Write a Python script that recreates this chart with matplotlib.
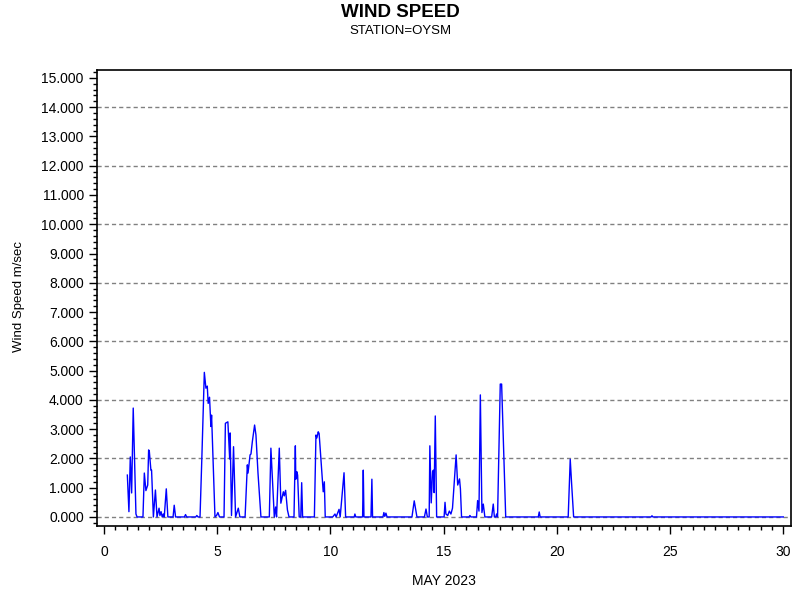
import matplotlib
matplotlib.use("Agg")
import matplotlib.pyplot as plt
import numpy as np
from matplotlib.ticker import MultipleLocator, FormatStrFormatter

plt.rcParams["font.family"] = ["Liberation Sans", "DejaVu Sans"]

# wind speed readings (day of May, m/sec)
day = [1.03, 1.10, 1.16, 1.22, 1.29, 1.41, 1.46,
       1.72, 1.78, 1.85, 1.93, 1.97, 2.00, 2.07, 2.10, 2.18,
       2.27, 2.34, 2.43, 2.47, 2.52, 2.57, 2.62, 2.66, 2.75, 2.82,
       3.05, 3.10, 3.16, 3.55, 3.60, 3.65, 4.05, 4.10, 4.15,
       4.24, 4.32, 4.43, 4.50, 4.56, 4.60, 4.66, 4.72, 4.75, 4.90,
       4.97, 5.03, 5.10,
       5.30, 5.36, 5.47, 5.55, 5.57, 5.63, 5.72, 5.81, 5.93, 6.00,
       6.23, 6.33, 6.36, 6.45, 6.49, 6.55, 6.65, 6.71, 6.80, 6.93,
       7.30, 7.37, 7.52, 7.58, 7.62, 7.74, 7.81, 7.92, 7.96, 8.02, 8.10, 8.17,
       8.39, 8.45, 8.47, 8.51, 8.55, 8.62, 8.69, 8.73, 8.77,
       9.29, 9.36, 9.40, 9.46, 9.50, 9.61, 9.68, 9.73, 9.77,
       10.10, 10.20, 10.25, 10.38, 10.43, 10.60, 10.67,
       11.05, 11.08, 11.12, 11.42, 11.45, 11.48, 11.79, 11.83, 11.86,
       12.32, 12.36, 12.40, 12.45, 12.50,
       13.60, 13.70, 13.82,
       14.15, 14.22, 14.28, 14.36, 14.39, 14.45, 14.51, 14.55, 14.58, 14.63, 14.69,
       15.02, 15.06, 15.10, 15.18, 15.25, 15.32, 15.39, 15.55, 15.62, 15.70, 15.74, 15.79,
       16.12, 16.16, 16.20,
       16.45, 16.50, 16.56, 16.62, 16.69, 16.75, 16.82,
       17.12, 17.19, 17.24, 17.30, 17.34, 17.38, 17.50, 17.56, 17.74,
       19.18, 19.22, 19.26,
       20.50, 20.59, 20.65, 20.74,
       24.16, 24.20, 24.24,
       30.0]

speed = [1.43, 0.18, 2.05, 0.82, 3.72, 0.10, 0.0,
         0.0, 1.50, 0.90, 1.09, 2.29, 2.25, 1.60, 1.60, 0.0,
         0.92, 0.0, 0.30, 0.05, 0.18, 0.0, 0.10, 0.0, 0.96, 0.0,
         0.0, 0.40, 0.0, 0.0, 0.08, 0.0, 0.0, 0.05, 0.0,
         0.0, 2.00, 4.94, 4.40, 4.47, 3.88, 4.09, 3.09, 3.48, 0.0,
         0.05, 0.15, 0.0,
         0.0, 3.20, 3.25, 1.98, 2.87, 0.05, 2.40, 0.0, 0.30, 0.0,
         0.0, 1.78, 1.50, 2.12, 2.15, 2.57, 3.14, 2.80, 1.50, 0.0,
         0.0, 2.35, 0.0, 0.34, 0.0, 2.35, 0.47, 0.86, 0.72, 0.91, 0.24, 0.0,
         0.0, 2.43, 1.29, 1.55, 1.43, 0.0, 0.0, 1.17, 0.0,
         0.0, 2.80, 2.70, 2.91, 2.85, 1.60, 0.86, 1.20, 0.0,
         0.0, 0.10, 0.0, 0.26, 0.0, 1.51, 0.0,
         0.0, 0.10, 0.0, 0.0, 1.60, 0.0, 0.0, 1.29, 0.0,
         0.0, 0.15, 0.02, 0.13, 0.0,
         0.0, 0.55, 0.0,
         0.0, 0.27, 0.0, 0.0, 2.43, 0.48, 1.55, 1.60, 0.83, 3.45, 0.0,
         0.0, 0.50, 0.10, 0.05, 0.20, 0.10, 0.30, 2.12, 1.09, 1.30, 0.96, 0.0,
         0.0, 0.05, 0.0,
         0.0, 0.56, 0.20, 4.17, 0.15, 0.44, 0.0,
         0.0, 0.44, 0.0, 0.0, 0.10, 0.0, 4.54, 4.54, 0.0,
         0.0, 0.17, 0.0,
         0.0, 1.97, 1.15, 0.0,
         0.0, 0.04, 0.0,
         0.0]

fig = plt.figure(figsize=(8, 6), dpi=100)
ax = fig.add_axes([0.12125, 0.1233, 0.8675, 0.76])

# dashed reference lines every 2 m/sec
for g in np.arange(0, 15, 2):
    ax.axhline(g, color="#808080", lw=1, linestyle=(0, (3, 2.2)), zorder=1)

ax.plot(day, speed, color="blue", lw=1, zorder=3)

ax.set_xlim(-0.31, 30.34)
ax.set_ylim(-0.31, 15.27)
ax.xaxis.set_major_locator(MultipleLocator(5))
ax.xaxis.set_minor_locator(MultipleLocator(0.5))
ax.yaxis.set_major_locator(MultipleLocator(1))
ax.yaxis.set_minor_locator(MultipleLocator(0.2))
ax.yaxis.set_major_formatter(FormatStrFormatter("%.3f"))
ax.tick_params(which="major", length=6, width=1, labelsize=10, direction="out")
ax.tick_params(which="minor", length=3, width=1, direction="out")
ax.tick_params(axis="x", pad=8)
for s in ax.spines.values():
    s.set_linewidth(1.2)

fig.text(0.5, 0.979, "WIND SPEED", ha="center", va="center", fontsize=13.5, fontweight="bold")
fig.text(0.5, 0.949, "STATION=OYSM", ha="center", va="center", fontsize=9.5)
fig.text(0.0235, 0.505, "Wind Speed m/sec", ha="center", va="center", rotation=90, fontsize=9.5)
fig.text(0.555, 0.032, "MAY 2023", ha="center", va="center", fontsize=10)

fig.savefig("out.png", dpi=100)
